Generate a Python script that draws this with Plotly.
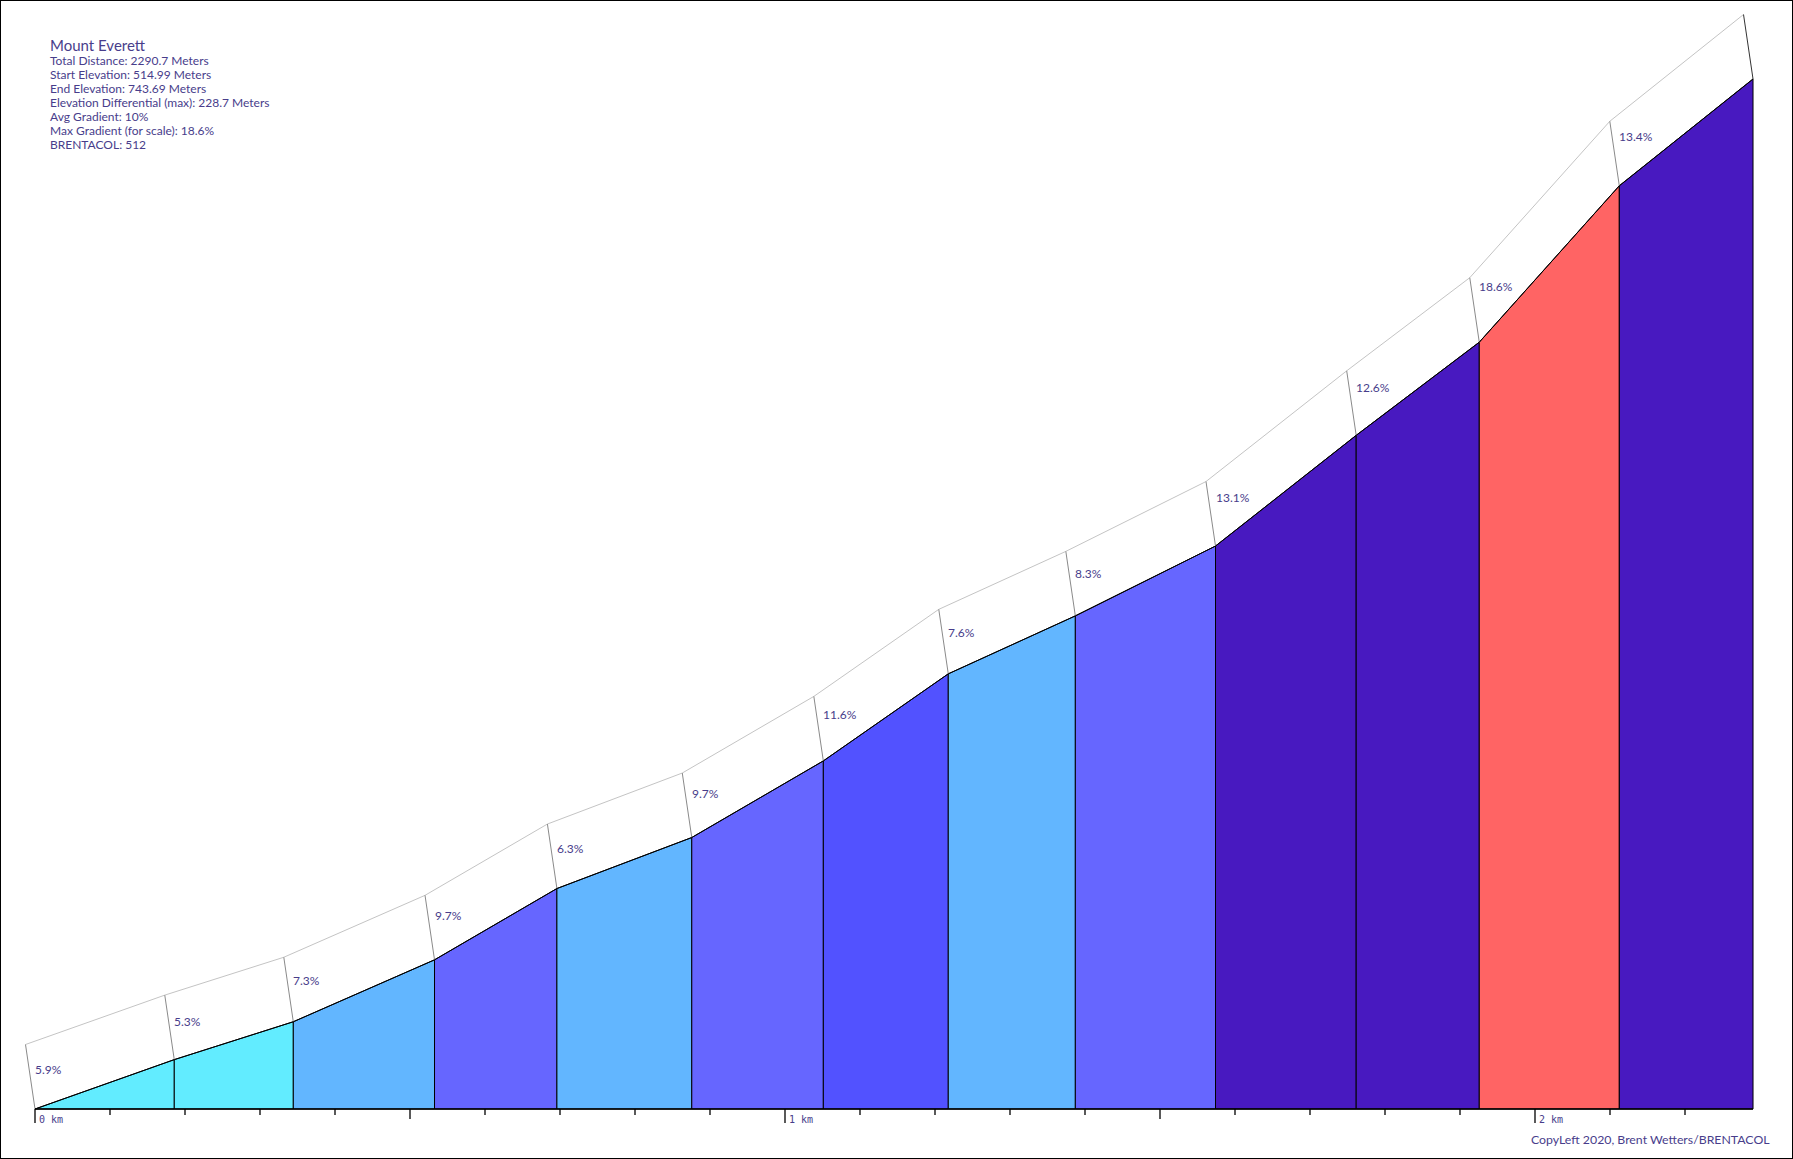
import plotly.graph_objects as go

# ---------------- data ----------------
TITLE = "Mount Everett"
INFO_LINES = [
    "Total Distance: 2290.7 Meters",
    "Start Elevation: 514.99 Meters",
    "End Elevation: 743.69 Meters",
    "Elevation Differential (max): 228.7 Meters",
    "Avg Gradient: 10%",
    "Max Gradient (for scale): 18.6%",
    "BRENTACOL: 512",
]
FOOTER = "CopyLeft 2020, Brent Wetters/BRENTACOL"

# segment boundaries: distance (m) and elevation (m)
distance_m = [0, 185.7, 344.4, 532.7, 695.9, 875.7, 1051.1, 1217.7,
              1387.1, 1574.0, 1761.6, 1925.7, 2112.4, 2290.7]
elevation_m = [514.99, 525.95, 534.36, 548.11, 563.94, 575.27, 592.28,
               611.61, 624.48, 639.99, 664.57, 685.25, 719.98, 743.69]
gradient_labels = ["5.9%", "5.3%", "7.3%", "9.7%", "6.3%", "9.7%", "11.6%",
                   "7.6%", "8.3%", "13.1%", "12.6%", "18.6%", "13.4%"]
gradient_values = [5.9, 5.3, 7.3, 9.7, 6.3, 9.7, 11.6, 7.6, 8.3, 13.1, 12.6, 18.6, 13.4]
tick_km = [round(0.1 * i, 1) for i in range(23)]
tick_label_km = [0, 1, 2]

# ---------------- geometry / style ----------------
W, H = 1793, 1159
X0_PX, PX_PER_KM = 35, 750.0
BASE_PX = 1109
PX_PER_M = 1030 / 228.7
TXT = "#483d8b"

start_el = elevation_m[0]
xr = [-X0_PX / PX_PER_KM, (W - X0_PX) / PX_PER_KM]
yr = [start_el - (H - BASE_PX) / PX_PER_M, start_el + BASE_PX / PX_PER_M]


def px_dx(p):
    return p / PX_PER_KM


def px_dy(p):
    return p / PX_PER_M


def grad_color(g):
    if g < 6:
        return "#62ecff"
    if g < 8:
        return "#62b6ff"
    if g < 10:
        return "#6666ff"
    if g < 12:
        return "#5252ff"
    if g < 15:
        return "#4819c0"
    return "#ff6464"


km = [d / 1000 for d in distance_m]
fig = go.Figure()

# filled segments
for i in range(len(gradient_values)):
    xs = [km[i], km[i], km[i + 1], km[i + 1], km[i]]
    ys = [start_el, elevation_m[i], elevation_m[i + 1], start_el, start_el]
    fig.add_trace(go.Scatter(x=xs, y=ys, mode="lines", fill="toself",
                             fillcolor=grad_color(gradient_values[i]),
                             line=dict(color="black", width=1),
                             hoverinfo="skip", showlegend=False))

# band (pseudo 3D) above the profile
OFF_X, OFF_Y = px_dx(-9.5), px_dy(64.5)
top_x = [x + OFF_X for x in km]
top_y = [y + OFF_Y for y in elevation_m]
fig.add_trace(go.Scatter(x=top_x, y=top_y, mode="lines",
                         line=dict(color="#c4c4c4", width=1),
                         hoverinfo="skip", showlegend=False))
for i in range(len(km)):
    col = "#333333" if i == len(km) - 1 else "#8a8a8a"
    fig.add_trace(go.Scatter(x=[km[i], top_x[i]], y=[elevation_m[i], top_y[i]],
                             mode="lines", line=dict(color=col, width=1),
                             hoverinfo="skip", showlegend=False))

# profile line
fig.add_trace(go.Scatter(x=km, y=elevation_m, mode="lines",
                         line=dict(color="black", width=1),
                         hoverinfo="skip", showlegend=False))

# baseline
fig.add_trace(go.Scatter(x=[km[0], km[-1]], y=[start_el, start_el], mode="lines",
                         line=dict(color="black", width=1.3),
                         hoverinfo="skip", showlegend=False))

# ticks
tx, ty = [], []
for t in tick_km:
    n = int(round(t * 10))
    ln = 14 if n % 10 == 0 else (10 if n % 5 == 0 else 6)
    tx += [t, t, None]
    ty += [start_el, start_el - px_dy(ln), None]
fig.add_trace(go.Scatter(x=tx, y=ty, mode="lines", line=dict(color="black", width=1.3),
                         hoverinfo="skip", showlegend=False))

annotations = []
for t in tick_label_km:
    annotations.append(dict(x=t + px_dx(1.5), y=start_el - px_dy(10), xref="x", yref="y",
                            text=f"{t} km", showarrow=False, xanchor="left", yanchor="middle",
                            font=dict(family="DejaVu Sans Mono", size=10, color=TXT)))

# gradient labels
for i, lab in enumerate(gradient_labels):
    off = 33 - 1.3 * gradient_values[i]
    annotations.append(dict(x=top_x[i] + px_dx(7.5), y=top_y[i] - px_dy(off),
                            xref="x", yref="y", text=lab, showarrow=False,
                            xanchor="left", yanchor="middle",
                            font=dict(family="Lato", size=12, color=TXT)))

# info block
annotations.append(dict(x=48 / W, y=1 - 45 / H, xref="paper", yref="paper", text=TITLE,
                        showarrow=False, xanchor="left", yanchor="middle",
                        font=dict(family="Lato", size=15, color=TXT)))
for j, line in enumerate(INFO_LINES):
    yc = 60.7 + 13.9 * j
    annotations.append(dict(x=48 / W, y=1 - yc / H, xref="paper", yref="paper", text=line,
                            showarrow=False, xanchor="left", yanchor="middle",
                            font=dict(family="Lato", size=12, color=TXT)))

annotations.append(dict(x=1772 / W, y=1 - 1139.5 / H, xref="paper", yref="paper", text=FOOTER,
                        showarrow=False, xanchor="right", yanchor="middle",
                        font=dict(family="Lato", size=12.3, color=TXT)))

fig.update_layout(
    width=W, height=H,
    margin=dict(l=0, r=0, t=0, b=0),
    paper_bgcolor="white", plot_bgcolor="white",
    xaxis=dict(range=xr, visible=False, fixedrange=True),
    yaxis=dict(range=yr, visible=False, fixedrange=True),
    annotations=annotations,
    shapes=[dict(type="rect", xref="paper", yref="paper", x0=0, y0=0, x1=1, y1=1,
                 line=dict(color="black", width=2), layer="above")],
    showlegend=False,
)

fig.write_html("out.html", config={"displayModeBar": False},
               post_script="document.body.style.margin='0';document.body.style.overflow='hidden';")
